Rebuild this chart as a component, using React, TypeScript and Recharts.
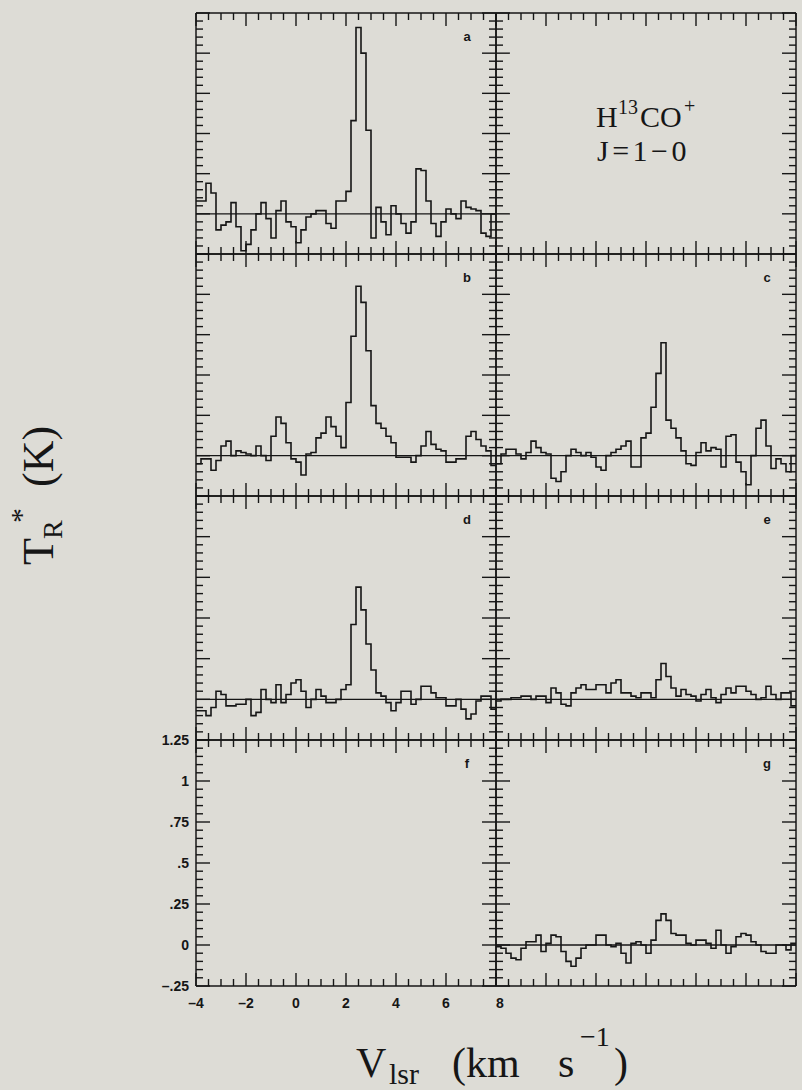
import React from "react";
import { LineChart, Line, XAxis, YAxis, ReferenceLine } from "recharts";

const INK = "#161616";
const PAPER = "#dddcd6";
const SANS = "'Liberation Sans', Arial, sans-serif";
const SERIF = "'Liberation Serif', 'Times New Roman', serif";

// channel edges in km/s (0.2 km/s channels), last entry closes the final step
const velocity = [
  -4, -3.8, -3.6, -3.4, -3.2, -3, -2.8, -2.6, -2.4, -2.2,
  -2, -1.8, -1.6, -1.4, -1.2, -1, -0.8, -0.6, -0.4, -0.2,
  0, 0.2, 0.4, 0.6, 0.8, 1, 1.2, 1.4, 1.6, 1.8,
  2, 2.2, 2.4, 2.6, 2.8, 3, 3.2, 3.4, 3.6, 3.8,
  4, 4.2, 4.4, 4.6, 4.8, 5, 5.2, 5.4, 5.6, 5.8,
  6, 6.2, 6.4, 6.6, 6.8, 7, 7.2, 7.4, 7.6, 7.8, 8,
];

// T_R* (K) per channel
const spectrumA = [
  0.08, 0.08, 0.19, 0.13, -0.1, -0.07, -0.05, 0.07, -0.08, -0.23,
  -0.19, -0.1, 0.0, 0.07, -0.03, -0.15, 0.02, 0.08, -0.05, -0.08,
  -0.18, -0.1, -0.02, 0.0, 0.02, 0.02, -0.06, -0.09, 0.08, 0.08,
  0.14, 0.58, 1.16, 1.0, 0.52, -0.15, 0.04, -0.05, -0.13, 0.05,
  0.0, -0.06, -0.12, -0.05, 0.28, 0.27, 0.08, -0.06, -0.14, -0.05,
  0.03, 0.0, -0.03, 0.08, 0.04, 0.03, 0.02, -0.12, -0.14, 0.0,
];
const spectrumB = [
  -0.05, -0.02, -0.02, -0.09, -0.03, 0.06, 0.09, 0.0, 0.03, 0.02,
  0.01, 0.0, 0.06, 0.0, -0.03, 0.12, 0.24, 0.2, 0.08, -0.02,
  -0.04, -0.12, 0.01, 0.02, 0.11, 0.14, 0.24, 0.18, 0.12, 0.05,
  0.33, 0.74, 1.05, 0.95, 0.65, 0.31, 0.2, 0.17, 0.12, 0.08,
  -0.01, -0.01, -0.01, -0.04, 0.0, 0.06, 0.15, 0.07, 0.04, 0.03,
  -0.04, -0.04, -0.02, -0.02, 0.12, 0.15, 0.1, 0.06, 0.03, -0.06,
];
const spectrumC = [
  -0.05, 0.01, 0.04, 0.04, 0.01, -0.02, 0.02, 0.09, 0.05, 0.02,
  0.01, -0.14, -0.16, -0.1, 0.0, 0.04, 0.02, 0.0, 0.02, -0.01,
  -0.07, -0.09, 0.0, 0.02, 0.04, 0.06, 0.09, -0.07, -0.07, 0.11,
  0.14, 0.3, 0.51, 0.7, 0.22, 0.17, 0.11, 0.03, -0.05, -0.06,
  0.02, 0.08, 0.03, 0.05, 0.04, -0.07, 0.12, 0.13, -0.04, -0.1,
  -0.18, 0.0, 0.17, 0.22, 0.06, -0.08, -0.02, -0.05, -0.1, 0.0,
];
const spectrumD = [
  -0.07, -0.07, -0.1, -0.05, 0.05, 0.03, -0.04, -0.04, -0.03, -0.03,
  0.0, -0.1, -0.08, 0.06, 0.0, -0.02, 0.09, -0.02, 0.03, 0.1,
  0.12, 0.05, -0.05, 0.0, 0.06, 0.02, -0.02, -0.02, 0.0, 0.06,
  0.09, 0.46, 0.69, 0.55, 0.34, 0.18, 0.04, 0.02, -0.02, -0.07,
  -0.02, 0.05, 0.05, -0.03, 0.0, 0.08, 0.08, 0.04, 0.01, 0.01,
  -0.04, -0.04, 0.0, -0.06, -0.12, -0.09, -0.01, 0.02, 0.02, -0.06,
];
const spectrumE = [
  -0.01, 0.0, 0.0, 0.01, 0.01, 0.02, 0.02, 0.0, 0.02, 0.02,
  -0.02, 0.07, 0.04, -0.03, -0.04, 0.04, 0.07, 0.09, 0.06, 0.06,
  0.09, 0.09, 0.04, 0.1, 0.12, 0.04, 0.04, 0.02, 0.01, 0.04,
  0.04, 0.01, 0.12, 0.22, 0.14, 0.07, 0.02, 0.06, 0.03, 0.02,
  -0.01, 0.03, 0.06, 0.01, -0.02, 0.03, 0.07, 0.04, 0.08, 0.08,
  0.05, 0.03, 0.0, 0.01, 0.08, 0.03, 0.0, 0.04, 0.04, -0.04,
];
const spectrumG = [
  -0.01, -0.02, -0.05, -0.08, -0.09, -0.02, 0.02, 0.02, 0.06, -0.04,
  0.01, 0.06, 0.05, -0.04, -0.1, -0.13, -0.08, -0.02, 0.0, 0.0,
  0.06, 0.06, 0.0, -0.01, 0.01, -0.05, -0.11, 0.01, 0.02, 0.0,
  -0.05, 0.03, 0.15, 0.19, 0.15, 0.07, 0.06, 0.06, 0.01, 0.0,
  0.03, 0.03, 0.01, -0.02, 0.09, 0.0, -0.05, -0.01, 0.05, 0.07,
  0.06, 0.02, 0.0, -0.04, -0.05, -0.05, 0.0, 0.0, -0.03, 0.01,
];

const xTicks = [
  -4, -3.5, -3, -2.5, -2, -1.5, -1, -0.5, 0, 0.5, 1, 1.5, 2,
  2.5, 3, 3.5, 4, 4.5, 5, 5.5, 6, 6.5, 7, 7.5, 8,
];
const yTicks = [
  -0.25, -0.2, -0.15, -0.1, -0.05, 0, 0.05, 0.1, 0.15, 0.2, 0.25,
  0.3, 0.35, 0.4, 0.45, 0.5, 0.55, 0.6, 0.65, 0.7, 0.75, 0.8,
  0.85, 0.9, 0.95, 1, 1.05, 1.1, 1.15, 1.2, 1.25,
];
const xLabelValues = [-4, -2, 0, 2, 4, 6, 8];
const xLabelText = ["\u20134", "\u20132", "0", "2", "4", "6", "8"];
const yLabelValues = [-0.25, 0, 0.25, 0.5, 0.75, 1, 1.25];
const yLabelText = ["\u2013.25", "0", ".25", ".5", ".75", "1", "1.25"];

// panel frame geometry on the page
const colLeft = [196, 496];
const rowTop = [13, 254, 496, 740];
const rowBottom = [254, 496, 740, 986];
const PLOT_W = 300;
const AX_L = 50;
const AX_R = 12;
const AX_T = 12;
const AX_B = 30;

function toSteps(values: number[] | null) {
  return velocity.map((v, i) => ({
    v,
    t: values ? values[Math.min(i, values.length - 1)] : null,
  }));
}

function xTick(side: "top" | "bottom", withLabels: boolean) {
  return (props: any) => {
    const { x, y, payload } = props;
    const v = payload.value;
    const major = Math.abs(v % 2) < 1e-6;
    const len = major ? 13 : 7;
    const dir = side === "bottom" ? -1 : 1;
    const k = withLabels ? xLabelValues.indexOf(v) : -1;
    return (
      <g>
        <line x1={x} x2={x} y1={y} y2={y + dir * len} stroke={INK} strokeWidth={1.4} />
        {k >= 0 && (
          <text x={x + (v === 8 ? 4 : 0)} y={y + 22} textAnchor="middle" fontFamily={SANS} fontWeight="bold" fontSize={14} fill={INK}>
            {xLabelText[k]}
          </text>
        )}
      </g>
    );
  };
}

function yTick(side: "left" | "right", withLabels: boolean) {
  return (props: any) => {
    const { x, y, payload } = props;
    const v = payload.value;
    const major = Math.abs(v * 4 - Math.round(v * 4)) < 1e-6;
    const len = major ? 14 : 7;
    const dir = side === "left" ? 1 : -1;
    const k = withLabels ? yLabelValues.indexOf(v) : -1;
    return (
      <g>
        <line x1={x} x2={x + dir * len} y1={y} y2={y} stroke={INK} strokeWidth={1.4} />
        {k >= 0 && (
          <text x={x - 7} y={y + 5} textAnchor="end" fontFamily={SANS} fontWeight="bold" fontSize={14} fill={INK}>
            {yLabelText[k]}
          </text>
        )}
      </g>
    );
  };
}

interface PanelProps {
  col: number;
  row: number;
  values: number[] | null;
  labels?: boolean;
}

function Panel({ col, row, values, labels = false }: PanelProps) {
  const plotH = rowBottom[row] - rowTop[row];
  const axisLine = { stroke: INK, strokeWidth: 1.5 };
  return (
    <div style={{ position: "absolute", left: colLeft[col] - AX_L, top: rowTop[row] - AX_T }}>
      <LineChart
        width={PLOT_W + AX_L + AX_R}
        height={plotH + AX_T + AX_B}
        data={toSteps(values)}
        margin={{ top: 0, right: 0, bottom: 0, left: 0 }}
      >
        <XAxis xAxisId="b" dataKey="v" type="number" domain={[-4, 8]} allowDataOverflow ticks={xTicks}
          interval={0} orientation="bottom" height={AX_B} tickSize={0} tickMargin={0}
          axisLine={axisLine} tickLine={false} tick={xTick("bottom", labels)} />
        <XAxis xAxisId="t" dataKey="v" type="number" domain={[-4, 8]} allowDataOverflow ticks={xTicks}
          interval={0} orientation="top" height={AX_T} tickSize={0} tickMargin={0}
          axisLine={axisLine} tickLine={false} tick={xTick("top", false)} />
        <YAxis yAxisId="l" type="number" domain={[-0.25, 1.25]} allowDataOverflow ticks={yTicks}
          interval={0} orientation="left" width={AX_L} tickSize={0} tickMargin={0}
          axisLine={axisLine} tickLine={false} tick={yTick("left", labels)} />
        <YAxis yAxisId="r" type="number" domain={[-0.25, 1.25]} allowDataOverflow ticks={yTicks}
          interval={0} orientation="right" width={AX_R} tickSize={0} tickMargin={0}
          axisLine={axisLine} tickLine={false} tick={yTick("right", false)} />
        {values && <ReferenceLine xAxisId="b" yAxisId="l" y={0} stroke={INK} strokeWidth={1.4} />}
        {values && (
          <Line xAxisId="b" yAxisId="l" type="stepAfter" dataKey="t" stroke={INK} strokeWidth={1.6}
            dot={false} activeDot={false} isAnimationActive={false} />
        )}
      </LineChart>
    </div>
  );
}

const panelLetters = ["a", "b", "c", "d", "e", "f", "g"];
const letterCols = [0, 0, 1, 0, 1, 0, 1];
const letterRows = [0, 1, 1, 2, 2, 3, 3];

export default function App() {
  return (
    <div style={{ position: "absolute", left: 0, top: 0, width: 802, height: 1090, background: PAPER, overflow: "hidden" }}>
      <Panel col={0} row={0} values={spectrumA} />
      <Panel col={1} row={0} values={null} />
      <Panel col={0} row={1} values={spectrumB} />
      <Panel col={1} row={1} values={spectrumC} />
      <Panel col={0} row={2} values={spectrumD} />
      <Panel col={1} row={2} values={spectrumE} />
      <Panel col={0} row={3} values={null} labels />
      <Panel col={1} row={3} values={spectrumG} />

      <svg width={802} height={1090} style={{ position: "absolute", left: 0, top: 0, pointerEvents: "none" }}>
        {panelLetters.map((s, i) => (
          <text key={s} x={colLeft[letterCols[i]] + PLOT_W - 29} y={rowTop[letterRows[i]] + 28}
            textAnchor="middle" fontFamily={SANS} fontWeight="bold" fontSize={13} fill={INK}>
            {s}
          </text>
        ))}

        {/* molecule / transition label in the empty top-right panel */}
        <text x={596} y={127} fontFamily={SERIF} fontSize={30} fill={INK}>H</text>
        <text x={618} y={114} fontFamily={SERIF} fontSize={20} fill={INK}>13</text>
        <text x={640} y={127} fontFamily={SERIF} fontSize={30} fill={INK}>CO</text>
        <text x={684} y={113} fontFamily={SERIF} fontSize={20} fill={INK}>+</text>
        <text x={597} y={161} fontFamily={SERIF} fontSize={30} letterSpacing={3.5} fill={INK}>
          J=1{"\u2212"}0
        </text>

        {/* y title, rotated */}
        <text transform="translate(53,565) rotate(-90)" fontFamily={SERIF} fontSize={44} fill={INK}>
          <tspan x={0} y={0}>T</tspan>
          <tspan x={26} y={9} fontSize={28}>R</tspan>
          <tspan x={42} y={-22} fontSize={30}>*</tspan>
          <tspan x={78} y={0}>(K)</tspan>
        </text>

        {/* x title */}
        <text x={356} y={1077} fontFamily={SERIF} fontSize={42} fill={INK}>V</text>
        <text x={389} y={1084} fontFamily={SERIF} fontSize={30} fill={INK}>lsr</text>
        <text x={452} y={1077} fontFamily={SERIF} fontSize={42} fill={INK}>(km</text>
        <text x={558} y={1077} fontFamily={SERIF} fontSize={42} fill={INK}>s</text>
        <text x={580} y={1046} fontFamily={SERIF} fontSize={28} fill={INK}>{"\u2212"}1</text>
        <text x={614} y={1077} fontFamily={SERIF} fontSize={42} fill={INK}>)</text>
      </svg>
    </div>
  );
}
